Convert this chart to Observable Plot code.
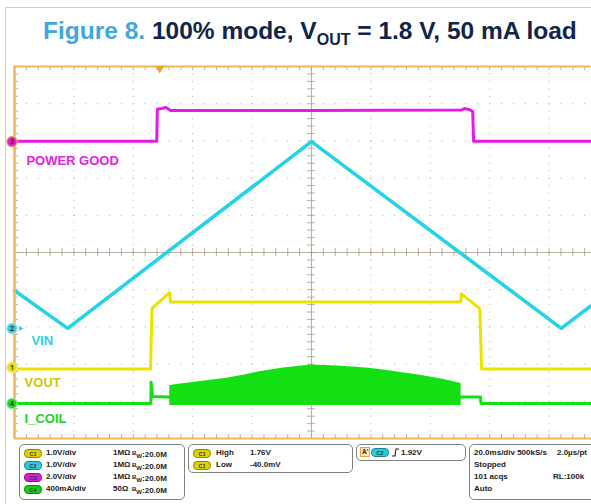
<!DOCTYPE html>
<html><head><meta charset="utf-8">
<script src="https://cdn.jsdelivr.net/npm/d3@7"></script>
<script src="https://cdn.jsdelivr.net/npm/@observablehq/plot@0.6"></script>
<style>
body{margin:0;background:#fff;font-family:"Liberation Sans",Arial,sans-serif;}
#wrap{position:relative;width:591px;height:504px;overflow:hidden;background:#fff;}
#border{position:absolute;left:5px;top:7px;width:640px;height:540px;border:1px solid #cdcdcd;box-sizing:border-box;}
#title{position:absolute;left:43px;top:17px;font-weight:bold;font-size:24.5px;color:#11254a;white-space:nowrap;}
#title .fig{color:#3fa8de;}
#title sub{font-size:16px;vertical-align:-6px;line-height:0;}
#chart{position:absolute;left:0;top:0;}
.box{position:absolute;border:1px solid #808080;border-radius:5px;box-sizing:border-box;}
.t{position:absolute;font-size:8px;font-weight:bold;color:#222;white-space:nowrap;line-height:10px;}
.chip{position:absolute;width:18px;height:9px;border-radius:5px;font-size:5.5px;line-height:8px;text-align:center;color:#333;font-weight:bold;box-sizing:border-box;border:1px solid rgba(0,0,0,0.35);}
</style></head>
<body><div id="wrap"><div id="border"></div><div id="title"></div><div id="chart"></div><div id="panel"></div></div>
<script>
// ---- scope settings ----
const msPerDiv = 20;
const channels = ["C1", "C2", "C3", "C4"];
const channelScale = ["1.0V/div", "1.0V/div", "2.0V/div", "400mA/div"];
const channelImp = ["1MΩ", "1MΩ", "1MΩ", "50Ω"];
const channelBW = ["20.0M", "20.0M", "20.0M", "20.0M"];
const perDiv = [1.0, 1.0, 2.0, 400];          // units per division
const markerDiv = [1.91, 2.96, 7.98, 0.94];   // ground marker position (div from bottom)
const traceNames = ["VOUT", "VIN", "POWER GOOD", "I_COIL"];
const triggerTime = 48.9;
const measureLabels = ["High", "Low"];
const measureValues = ["1.76V", "-40.0mV"];
const triggerLevel = "1.92V";
const acqLines = ["20.0ms/div 500kS/s", "Stopped", "101 acqs", "Auto"];
const acqRight = ["2.0µs/pt", "", "RL:100k", ""];

// ---- waveforms (time in ms from left edge) ----
const pgTime  = [0, 47.9, 48.1, 49.5, 51.0, 52.2, 52.6, 100, 150.5, 151.5, 153.3, 154.3, 154.6, 194.3];
const pgVolts = [0.02, 0.02, 1.74, 1.78, 1.84, 1.72, 1.68, 1.68, 1.70, 1.78, 1.72, 1.62, 0.02, 0.02];

const vinTime  = [0, 17.9, 100, 184.1, 194.3];
const vinVolts = [1.02, 0.0, 5.02, 0.0, 0.62];

const voutTime  = [0, 45.8, 46.3, 52.2, 52.5, 150.3, 150.5, 156.7, 157.3, 194.3];
const voutVolts = [-0.04, -0.04, 1.59, 2.01, 1.76, 1.76, 1.98, 1.58, -0.04, -0.04];

const coilTime = [0, 45.9, 46.0, 46.5, 52.3, 150.4, 156.9, 157.1, 194.3];
const coilmA   = [0, 0, 230, 75, 70, 70, 70, 0, 0];

const burstTime = [52.3, 56, 60, 66, 71, 77, 83, 90, 96, 100, 105, 110, 115, 120, 125, 130, 135, 140, 145, 150.4];
const burstTop  = [195, 210, 225, 250, 270, 305, 345, 380, 400, 415, 408, 400, 390, 376, 358, 335, 312, 285, 255, 215];
const burstLow  = [-20, -20, -20, -20, -20, -20, -20, -20, -20, -20, -20, -20, -20, -20, -20, -20, -20, -20, -20, -20];

// ---- build tables ----
const toDiv = (ch, v) => markerDiv[ch] + v / perDiv[ch];
const pg   = pgTime.map((t, i) => ({t, y: toDiv(2, pgVolts[i])}));
const vin  = vinTime.map((t, i) => ({t, y: toDiv(1, vinVolts[i])}));
const vout = voutTime.map((t, i) => ({t, y: toDiv(0, voutVolts[i])}));
const coil = coilTime.map((t, i) => ({t, y: toDiv(3, coilmA[i])}));
const burst = burstTime.map((t, i) => ({t, hi: toDiv(3, burstTop[i]), lo: toDiv(3, burstLow[i])}));

const xMax = 194.3;
const majorX = d3.range(1, 10).map(d => d * msPerDiv);
const majorY = d3.range(1, 10);
const minorX = d3.range(0, 201, msPerDiv / 5).filter(d => d <= xMax);
const minorY = d3.range(0, 10.01, 0.2);
const gridDots = [];
for (const x of majorX) for (const y of minorY) if (x !== 100) gridDots.push({x, y});
for (const y of majorY) for (const x of minorX) if (y !== 5) gridDots.push({x, y});

const tickPx = 4;
const dxMs = tickPx / (577 / xMax);
const dyDiv = tickPx / 37.2;

const colors = {pg: "#e619e6", vin: "#25d3e6", vout: "#ece200", coil: "#12e012"};
const gridCol = "#a89c8c";
const frameCol = "#f6b257";

const markers = [
  {y: markerDiv[2], n: "3", fill: "#e21ee2", stroke: "#f0b040"},
  {y: markerDiv[1], n: "2", fill: "#33cfe0", stroke: "#9ee6ef"},
  {y: markerDiv[0], n: "1", fill: "#ece000", stroke: "#f3ea80"},
  {y: markerDiv[3], n: "4", fill: "#18d818", stroke: "#90ea90"}
];

const labels = [
  {t: 4.0, y: 7.47, s: traceNames[2], c: "#e61ee6"},
  {t: 5.7, y: 2.63, s: traceNames[1], c: "#2ed0e6"},
  {t: 3.4, y: 1.50, s: traceNames[0], c: "#d8c400"},
  {t: 3.4, y: 0.54, s: traceNames[3], c: "#1fd01f"}
];

const chart = Plot.plot({
  width: 591, height: 504,
  marginLeft: 14, marginRight: 0, marginTop: 66, marginBottom: 66,
  x: {domain: [0, xMax], axis: null},
  y: {domain: [0, 10], axis: null},
  style: {background: "transparent", overflow: "visible"},
  marks: [
    Plot.dot(gridDots, {x: "x", y: "y", r: 0.6, fill: "#b4b4b4", stroke: "none"}),
    Plot.ruleX([100], {y1: 0, y2: 10, stroke: gridCol, strokeWidth: 0.8}),
    Plot.ruleY([5], {x1: 0, x2: xMax, stroke: gridCol, strokeWidth: 0.8}),
    // minor ticks on centre lines
    Plot.ruleY(minorY, {x1: 100 - dxMs, x2: 100 + dxMs, stroke: gridCol, strokeWidth: 0.8}),
    Plot.ruleX(minorX, {y1: 5 - dyDiv, y2: 5 + dyDiv, stroke: gridCol, strokeWidth: 0.8}),
    // minor ticks on frame
    Plot.ruleX(minorX, {y1: 10 - dyDiv, y2: 10, stroke: gridCol, strokeWidth: 0.8}),
    Plot.ruleX(minorX, {y1: 0, y2: dyDiv, stroke: gridCol, strokeWidth: 0.8}),
    Plot.ruleY(minorY, {x1: 0, x2: dxMs, stroke: gridCol, strokeWidth: 0.8}),
    // waveforms
    Plot.line(pg, {x: "t", y: "y", stroke: colors.pg, strokeWidth: 3}),
    Plot.line(vin, {x: "t", y: "y", stroke: colors.vin, strokeWidth: 3.6}),
    Plot.line(vout, {x: "t", y: "y", stroke: colors.vout, strokeWidth: 3}),
    Plot.areaY(burst, {x: "t", y1: "lo", y2: "hi", fill: colors.coil}),
    Plot.line(coil, {x: "t", y: "y", stroke: colors.coil, strokeWidth: 3}),
    // frame
    Plot.ruleY([10], {x1: 0, x2: xMax, stroke: frameCol, strokeWidth: 2}),
    Plot.ruleY([0], {x1: 0, x2: xMax, stroke: frameCol, strokeWidth: 2}),
    Plot.ruleX([0], {y1: 0, y2: 10, stroke: frameCol, strokeWidth: 2.5}),
    // trigger position marker
    Plot.dot([triggerTime], {x: d => d, y: 10, symbol: "triangle", rotate: 180, r: 3.2, fill: "#f4a020", dy: 2}),
    // channel markers
    Plot.dot(markers, {x: 0, y: "y", r: 5.2, fill: "fill", stroke: "stroke", strokeWidth: 1.2, dx: -2.5}),
    Plot.text(markers, {x: 0, y: "y", text: "n", dx: -2.5, fontSize: 7, fill: "#333", fontWeight: "bold"}),
    Plot.dot([markerDiv[1]], {x: 0, y: d => d, symbol: "triangle", rotate: 90, r: 2, fill: "#33cfe0", dx: 6}),
    // trace labels
    Plot.text(labels, {x: "t", y: "y", text: "s", fill: "c", textAnchor: "start", fontSize: 13, fontWeight: "bold", fontFamily: "Liberation Sans, Arial, sans-serif"})
  ]
});
document.getElementById("chart").appendChild(chart);

document.getElementById("title").innerHTML =
  '<span class="fig">Figure 8.</span> 100% mode, V<sub>OUT</sub> = 1.8 V, 50 mA load';

// ---- bottom info panel ----
const chipCol = {C1: "#ddd200", C2: "#2ccbdc", C3: "#d41ed4", C4: "#18cc18"};
let html = "";
html += '<div class="box" style="left:19px;top:444px;width:166px;height:56px"></div>';
channels.forEach((c, i) => {
  const y = 448 + i * 12;
  html += `<div class="chip" style="left:24px;top:${y+1}px;background:${chipCol[c]}">${c}</div>`;
  html += `<div class="t" style="left:46px;top:${y}px">${channelScale[i]}</div>`;
  html += `<div class="t" style="left:113px;top:${y}px">${channelImp[i]}</div>`;
  html += `<div class="t" style="left:132px;top:${y}px"><span style="font-size:6px;vertical-align:2px">B</span><span style="font-size:6px;vertical-align:-1px">W</span>:${channelBW[i]}</div>`;
});
html += '<div class="box" style="left:188px;top:444px;width:165px;height:29px"></div>';
measureLabels.forEach((m, i) => {
  const y = 448 + i * 12;
  html += `<div class="chip" style="left:193px;top:${y+1}px;background:${chipCol.C1}">C1</div>`;
  html += `<div class="t" style="left:216px;top:${y}px">${m}</div>`;
  html += `<div class="t" style="left:250px;top:${y}px">${measureValues[i]}</div>`;
});
html += '<div class="box" style="left:356px;top:444px;width:110px;height:17px"></div>';
html += '<div class="t" style="left:360px;top:447px;border:1px solid #f0a030;background:#fbe7c6;line-height:8px;padding:0 1px;font-size:6.5px">A\'</div>';
html += `<div class="chip" style="left:371px;top:448px;background:${chipCol.C2}">C2</div>`;
html += '<svg style="position:absolute;left:391px;top:447px" width="9" height="10"><path d="M1,9 L4,9 L5,2 L8,2" fill="none" stroke="#222" stroke-width="1.1"/></svg>';
html += `<div class="t" style="left:401px;top:448px">${triggerLevel}</div>`;
html += '<div class="box" style="left:469px;top:444px;width:140px;height:56px"></div>';
acqLines.forEach((s, i) => {
  const y = 448 + i * 12;
  html += `<div class="t" style="left:474px;top:${y}px">${s}</div>`;
  if (acqRight[i]) html += `<div class="t" style="left:${i === 0 ? 557 : 553}px;top:${y}px">${acqRight[i]}</div>`;
});
document.getElementById("panel").innerHTML = html;
</script>
</body></html>
